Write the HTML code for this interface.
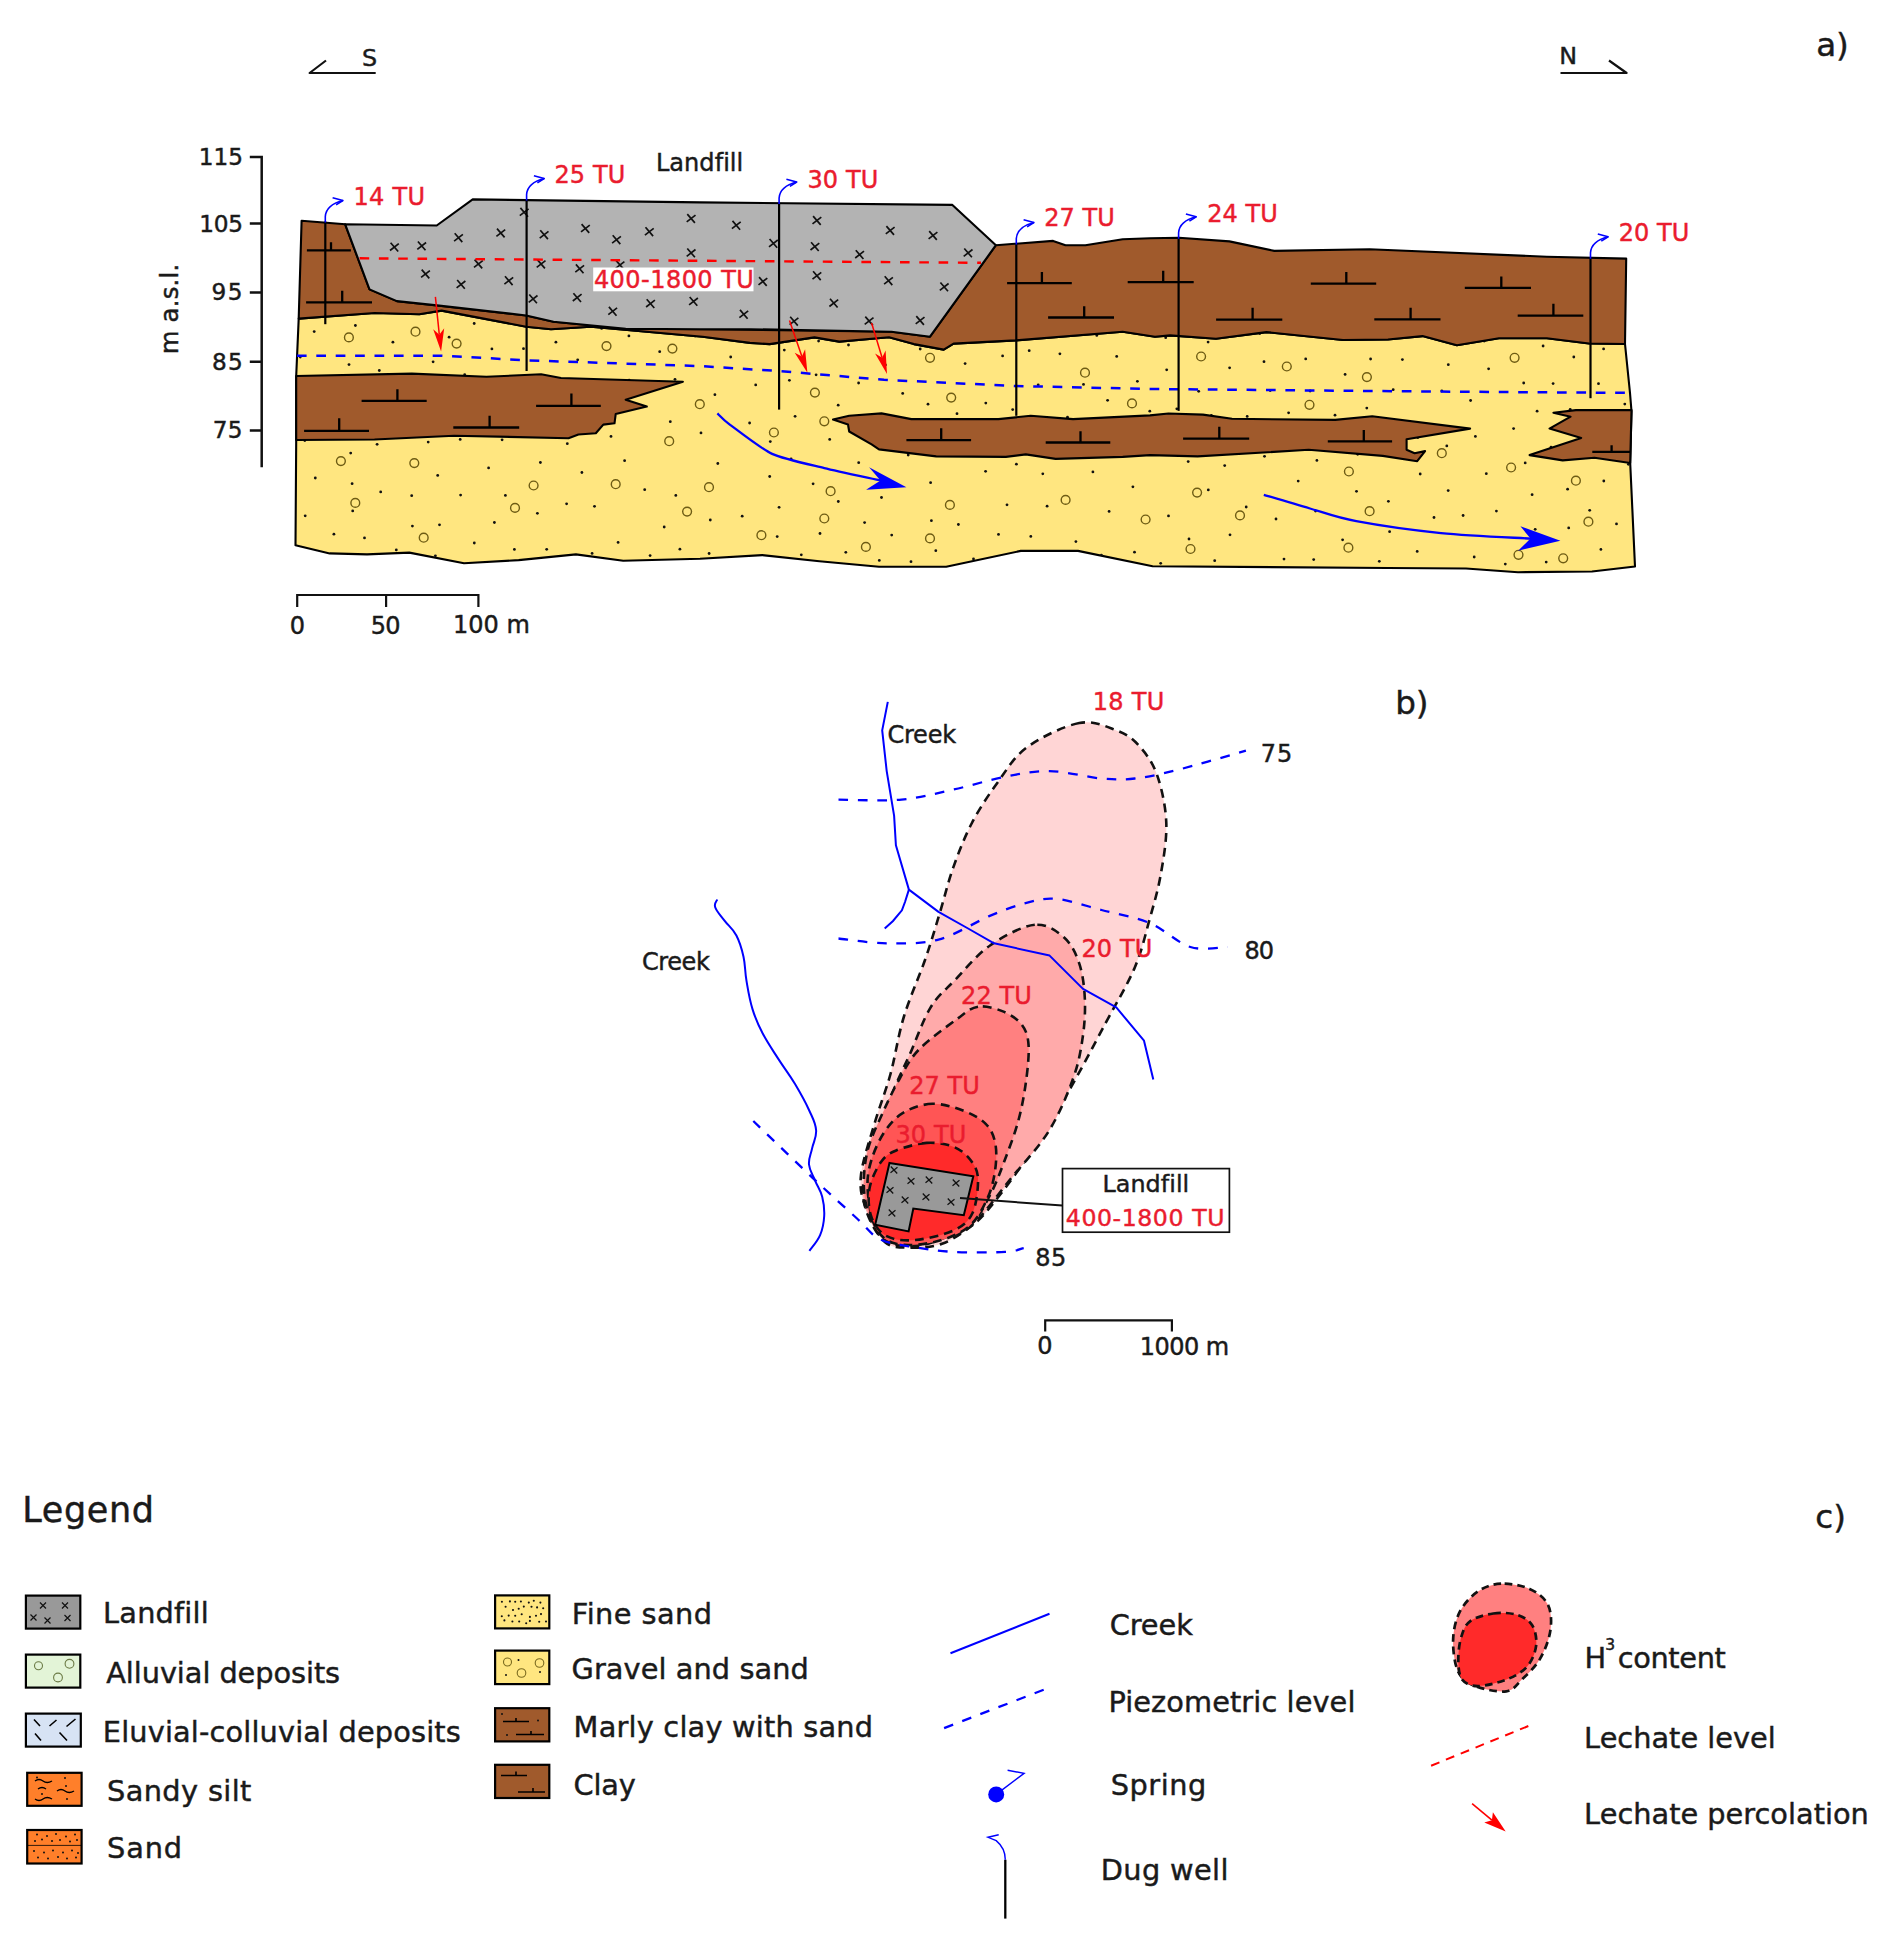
<!DOCTYPE html>
<html lang="en">
<head>
<meta charset="utf-8">
<title>Landfill tritium plume figure</title>
<style>
html,body{margin:0;padding:0;background:#fff;}
body{width:1890px;height:1933px;overflow:hidden;}
svg{display:block;font-family:"DejaVu Sans", "Liberation Sans", sans-serif;}
text{stroke-width:0.45px;paint-order:stroke fill;}
</style>
</head>
<body>
<svg width="1890" height="1933" viewBox="0 0 1890 1933">
<rect width="1890" height="1933" fill="#fff"/>
<g stroke="#000" stroke-width="2.1" stroke-linejoin="round">
<polygon fill="#ffe680" points="298.7,318.6 374.5,313.0 419.3,314.3 441.6,310.6 526.2,326.7 551.0,329.2 590.8,326.7 702.7,336.7 750.0,342.9 769.6,344.1 814.4,337.4 839.3,341.6 889.0,337.2 913.9,344.1 943.7,349.6 953.6,343.6 1015.8,340.4 1122.7,331.7 1155.0,336.7 1170.0,335.4 1216.0,338.7 1266.4,332.1 1343.0,340.0 1388.0,339.5 1422.5,336.1 1456.9,345.3 1499.0,338.2 1546.8,338.2 1589.0,343.5 1625.0,344.0 1630.0,393.0 1631.5,411.4 1630.2,463.0 1635.0,566.5 1592.0,571.5 1518.0,572.2 1466.0,568.5 1388.0,568.0 1152.6,566.3 1078.0,550.9 1020.8,550.9 946.2,566.8 879.0,566.8 819.4,561.3 762.2,555.1 700.0,558.8 623.2,560.8 575.9,554.4 518.7,560.1 464.0,563.3 409.3,552.6 367.0,554.4 329.7,553.4 295.5,545.2 296.2,440.0 296.2,376.0 298.7,318.6"/>
</g>
<clipPath id="cy"><polygon points="298.7,318.6 374.5,313.0 419.3,314.3 441.6,310.6 526.2,326.7 551.0,329.2 590.8,326.7 702.7,336.7 750.0,342.9 769.6,344.1 814.4,337.4 839.3,341.6 889.0,337.2 913.9,344.1 943.7,349.6 953.6,343.6 1015.8,340.4 1122.7,331.7 1155.0,336.7 1170.0,335.4 1216.0,338.7 1266.4,332.1 1343.0,340.0 1388.0,339.5 1422.5,336.1 1456.9,345.3 1499.0,338.2 1546.8,338.2 1589.0,343.5 1625.0,344.0 1630.0,393.0 1631.5,411.4 1630.2,463.0 1635.0,566.5 1592.0,571.5 1518.0,572.2 1466.0,568.5 1388.0,568.0 1152.6,566.3 1078.0,550.9 1020.8,550.9 946.2,566.8 879.0,566.8 819.4,561.3 762.2,555.1 700.0,558.8 623.2,560.8 575.9,554.4 518.7,560.1 464.0,563.3 409.3,552.6 367.0,554.4 329.7,553.4 295.5,545.2 296.2,440.0 296.2,376.0 298.7,318.6"/></clipPath>
<g clip-path="url(#cy)">
<g fill="none" stroke="#6e5c14" stroke-width="1.4">
<circle cx="348.9" cy="337.4" r="4.4"/>
<circle cx="415.5" cy="331.7" r="4.4"/>
<circle cx="456.6" cy="343.6" r="4.4"/>
<circle cx="606.5" cy="346.1" r="4.4"/>
<circle cx="672.4" cy="348.6" r="4.4"/>
<circle cx="930.0" cy="357.8" r="4.4"/>
<circle cx="1085.0" cy="372.7" r="4.4"/>
<circle cx="814.9" cy="392.6" r="4.4"/>
<circle cx="951.2" cy="397.6" r="4.4"/>
<circle cx="1201.1" cy="356.5" r="4.4"/>
<circle cx="1286.8" cy="366.5" r="4.4"/>
<circle cx="1366.9" cy="377.1" r="4.4"/>
<circle cx="1514.6" cy="357.8" r="4.4"/>
<circle cx="340.9" cy="461.1" r="4.4"/>
<circle cx="414.3" cy="463.1" r="4.4"/>
<circle cx="699.8" cy="404.2" r="4.4"/>
<circle cx="669.2" cy="441.2" r="4.4"/>
<circle cx="533.6" cy="485.5" r="4.4"/>
<circle cx="615.7" cy="484.2" r="4.4"/>
<circle cx="709.0" cy="487.2" r="4.4"/>
<circle cx="355.3" cy="502.9" r="4.4"/>
<circle cx="515.0" cy="507.9" r="4.4"/>
<circle cx="687.1" cy="511.6" r="4.4"/>
<circle cx="423.7" cy="537.7" r="4.4"/>
<circle cx="1132.0" cy="403.4" r="4.4"/>
<circle cx="824.3" cy="421.3" r="4.4"/>
<circle cx="773.9" cy="432.5" r="4.4"/>
<circle cx="830.6" cy="491.2" r="4.4"/>
<circle cx="949.9" cy="504.9" r="4.4"/>
<circle cx="1065.6" cy="499.9" r="4.4"/>
<circle cx="824.3" cy="518.5" r="4.4"/>
<circle cx="1145.6" cy="519.5" r="4.4"/>
<circle cx="761.4" cy="535.2" r="4.4"/>
<circle cx="930.0" cy="538.4" r="4.4"/>
<circle cx="865.9" cy="546.9" r="4.4"/>
<circle cx="1309.5" cy="404.8" r="4.4"/>
<circle cx="1441.8" cy="453.2" r="4.4"/>
<circle cx="1348.9" cy="471.5" r="4.4"/>
<circle cx="1511.1" cy="467.5" r="4.4"/>
<circle cx="1575.9" cy="480.7" r="4.4"/>
<circle cx="1197.1" cy="492.6" r="4.4"/>
<circle cx="1240.0" cy="515.4" r="4.4"/>
<circle cx="1369.6" cy="511.2" r="4.4"/>
<circle cx="1588.4" cy="521.7" r="4.4"/>
<circle cx="1190.5" cy="549.0" r="4.4"/>
<circle cx="1348.4" cy="547.7" r="4.4"/>
<circle cx="1518.5" cy="554.8" r="4.4"/>
<circle cx="1563.2" cy="558.3" r="4.4"/>
</g>
<g fill="#111">
<circle cx="730.7" cy="357.0" r="1.4"/>
<circle cx="1165.7" cy="337.7" r="1.4"/>
<circle cx="1012.7" cy="409.6" r="1.4"/>
<circle cx="377.1" cy="444.3" r="1.4"/>
<circle cx="392.9" cy="342.2" r="1.4"/>
<circle cx="864.6" cy="522.6" r="1.4"/>
<circle cx="464.7" cy="374.7" r="1.4"/>
<circle cx="1134.5" cy="552.2" r="1.4"/>
<circle cx="1067.5" cy="417.2" r="1.4"/>
<circle cx="1441.8" cy="391.0" r="1.4"/>
<circle cx="491.9" cy="348.9" r="1.4"/>
<circle cx="710.3" cy="520.0" r="1.4"/>
<circle cx="540.4" cy="462.5" r="1.4"/>
<circle cx="1149.8" cy="411.2" r="1.4"/>
<circle cx="379.3" cy="370.5" r="1.4"/>
<circle cx="717.8" cy="463.5" r="1.4"/>
<circle cx="902.7" cy="393.4" r="1.4"/>
<circle cx="1356.5" cy="491.3" r="1.4"/>
<circle cx="624.6" cy="460.7" r="1.4"/>
<circle cx="998.5" cy="534.4" r="1.4"/>
<circle cx="1270.2" cy="390.5" r="1.4"/>
<circle cx="1603.6" cy="348.9" r="1.4"/>
<circle cx="502.1" cy="439.8" r="1.4"/>
<circle cx="352.1" cy="483.7" r="1.4"/>
<circle cx="1316.9" cy="460.4" r="1.4"/>
<circle cx="1224.7" cy="465.6" r="1.4"/>
<circle cx="1417.2" cy="551.4" r="1.4"/>
<circle cx="930.6" cy="482.7" r="1.4"/>
<circle cx="380.7" cy="491.9" r="1.4"/>
<circle cx="1160.7" cy="563.3" r="1.4"/>
<circle cx="1393.2" cy="389.7" r="1.4"/>
<circle cx="813.1" cy="483.8" r="1.4"/>
<circle cx="523.5" cy="348.7" r="1.4"/>
<circle cx="820.0" cy="533.5" r="1.4"/>
<circle cx="1030.8" cy="536.4" r="1.4"/>
<circle cx="1389.6" cy="531.7" r="1.4"/>
<circle cx="670.3" cy="421.7" r="1.4"/>
<circle cx="777.2" cy="536.6" r="1.4"/>
<circle cx="1573.8" cy="357.0" r="1.4"/>
<circle cx="1083.5" cy="384.4" r="1.4"/>
<circle cx="791.1" cy="458.8" r="1.4"/>
<circle cx="1567.6" cy="489.2" r="1.4"/>
<circle cx="985.6" cy="471.3" r="1.4"/>
<circle cx="1496.4" cy="511.1" r="1.4"/>
<circle cx="1463.1" cy="515.5" r="1.4"/>
<circle cx="437.7" cy="475.4" r="1.4"/>
<circle cx="577.7" cy="359.8" r="1.4"/>
<circle cx="300.3" cy="357.1" r="1.4"/>
<circle cx="333.9" cy="534.2" r="1.4"/>
<circle cx="1116.7" cy="356.4" r="1.4"/>
<circle cx="784.3" cy="350.1" r="1.4"/>
<circle cx="755.7" cy="384.9" r="1.4"/>
<circle cx="1402.4" cy="359.6" r="1.4"/>
<circle cx="1002.6" cy="355.9" r="1.4"/>
<circle cx="1448.2" cy="490.6" r="1.4"/>
<circle cx="1379.3" cy="561.3" r="1.4"/>
<circle cx="1434.0" cy="517.5" r="1.4"/>
<circle cx="1388.4" cy="501.3" r="1.4"/>
<circle cx="644.7" cy="489.7" r="1.4"/>
<circle cx="1546.2" cy="562.1" r="1.4"/>
<circle cx="1570.2" cy="409.3" r="1.4"/>
<circle cx="1417.8" cy="437.5" r="1.4"/>
<circle cx="1168.5" cy="515.9" r="1.4"/>
<circle cx="537.4" cy="513.3" r="1.4"/>
<circle cx="742.2" cy="516.2" r="1.4"/>
<circle cx="1264.0" cy="361.7" r="1.4"/>
<circle cx="494.4" cy="522.5" r="1.4"/>
<circle cx="1603.8" cy="481.0" r="1.4"/>
<circle cx="474.2" cy="323.5" r="1.4"/>
<circle cx="474.3" cy="543.0" r="1.4"/>
<circle cx="1075.9" cy="541.6" r="1.4"/>
<circle cx="885.4" cy="364.9" r="1.4"/>
<circle cx="305.2" cy="515.8" r="1.4"/>
<circle cx="1264.5" cy="456.3" r="1.4"/>
<circle cx="1047.1" cy="506.2" r="1.4"/>
<circle cx="1513.6" cy="428.6" r="1.4"/>
<circle cx="935.8" cy="550.7" r="1.4"/>
<circle cx="1230.0" cy="534.8" r="1.4"/>
<circle cx="1553.1" cy="383.6" r="1.4"/>
<circle cx="1342.6" cy="539.8" r="1.4"/>
<circle cx="505.4" cy="495.4" r="1.4"/>
<circle cx="1474.2" cy="557.0" r="1.4"/>
<circle cx="592.1" cy="553.4" r="1.4"/>
<circle cx="829.7" cy="439.4" r="1.4"/>
<circle cx="1616.5" cy="523.9" r="1.4"/>
<circle cx="985.8" cy="403.1" r="1.4"/>
<circle cx="352.7" cy="510.9" r="1.4"/>
<circle cx="659.7" cy="351.7" r="1.4"/>
<circle cx="396.3" cy="549.9" r="1.4"/>
<circle cx="714.9" cy="394.7" r="1.4"/>
<circle cx="1310.1" cy="391.0" r="1.4"/>
<circle cx="965.1" cy="363.6" r="1.4"/>
<circle cx="1543.1" cy="346.0" r="1.4"/>
<circle cx="958.4" cy="524.5" r="1.4"/>
<circle cx="1214.7" cy="560.7" r="1.4"/>
<circle cx="838.2" cy="405.2" r="1.4"/>
<circle cx="412.4" cy="526.1" r="1.4"/>
<circle cx="675.0" cy="379.3" r="1.4"/>
<circle cx="650.1" cy="555.6" r="1.4"/>
<circle cx="567.3" cy="443.7" r="1.4"/>
<circle cx="355.4" cy="325.5" r="1.4"/>
<circle cx="1298.2" cy="481.1" r="1.4"/>
<circle cx="1486.3" cy="473.7" r="1.4"/>
<circle cx="1276.0" cy="519.0" r="1.4"/>
<circle cx="1208.3" cy="489.9" r="1.4"/>
<circle cx="439.5" cy="524.8" r="1.4"/>
<circle cx="1042.8" cy="473.8" r="1.4"/>
<circle cx="1132.9" cy="486.8" r="1.4"/>
<circle cx="1284.0" cy="559.1" r="1.4"/>
<circle cx="957.0" cy="413.7" r="1.4"/>
<circle cx="1198.7" cy="391.3" r="1.4"/>
<circle cx="920.2" cy="349.0" r="1.4"/>
<circle cx="1488.6" cy="368.8" r="1.4"/>
<circle cx="1600.9" cy="549.4" r="1.4"/>
<circle cx="304.8" cy="440.5" r="1.4"/>
<circle cx="1532.1" cy="494.7" r="1.4"/>
<circle cx="795.1" cy="416.3" r="1.4"/>
<circle cx="1628.4" cy="464.3" r="1.4"/>
<circle cx="679.9" cy="549.2" r="1.4"/>
<circle cx="928.0" cy="404.2" r="1.4"/>
<circle cx="1598.5" cy="383.7" r="1.4"/>
<circle cx="1505.3" cy="564.1" r="1.4"/>
<circle cx="555.9" cy="342.2" r="1.4"/>
<circle cx="1568.7" cy="527.9" r="1.4"/>
<circle cx="908.2" cy="455.1" r="1.4"/>
<circle cx="449.1" cy="337.2" r="1.4"/>
<circle cx="816.1" cy="374.8" r="1.4"/>
<circle cx="701.0" cy="432.9" r="1.4"/>
<circle cx="1475.4" cy="436.4" r="1.4"/>
<circle cx="858.6" cy="383.0" r="1.4"/>
<circle cx="601.6" cy="328.4" r="1.4"/>
<circle cx="749.6" cy="423.0" r="1.4"/>
<circle cx="594.5" cy="506.3" r="1.4"/>
<circle cx="546.7" cy="549.3" r="1.4"/>
<circle cx="1523.7" cy="383.0" r="1.4"/>
<circle cx="611.0" cy="436.4" r="1.4"/>
<circle cx="1107.6" cy="400.3" r="1.4"/>
<circle cx="628.9" cy="335.9" r="1.4"/>
<circle cx="428.2" cy="442.1" r="1.4"/>
<circle cx="629.1" cy="380.1" r="1.4"/>
<circle cx="931.4" cy="520.7" r="1.4"/>
<circle cx="1537.1" cy="411.2" r="1.4"/>
<circle cx="1092.9" cy="471.9" r="1.4"/>
<circle cx="1166.7" cy="369.8" r="1.4"/>
<circle cx="1357.7" cy="454.3" r="1.4"/>
<circle cx="709.1" cy="553.5" r="1.4"/>
<circle cx="1345.1" cy="374.4" r="1.4"/>
<circle cx="858.7" cy="462.7" r="1.4"/>
<circle cx="1315.5" cy="511.1" r="1.4"/>
<circle cx="1305.7" cy="358.9" r="1.4"/>
<circle cx="349.0" cy="364.6" r="1.4"/>
<circle cx="514.4" cy="549.4" r="1.4"/>
<circle cx="779.1" cy="507.3" r="1.4"/>
<circle cx="315.3" cy="478.0" r="1.4"/>
<circle cx="364.5" cy="537.9" r="1.4"/>
<circle cx="1470.6" cy="400.5" r="1.4"/>
<circle cx="618.1" cy="542.4" r="1.4"/>
<circle cx="881.5" cy="497.5" r="1.4"/>
<circle cx="581.9" cy="472.5" r="1.4"/>
<circle cx="675.8" cy="495.4" r="1.4"/>
<circle cx="1313.7" cy="559.6" r="1.4"/>
<circle cx="1484.2" cy="341.1" r="1.4"/>
<circle cx="1007.0" cy="504.8" r="1.4"/>
<circle cx="435.4" cy="555.8" r="1.4"/>
<circle cx="488.6" cy="467.9" r="1.4"/>
<circle cx="838.3" cy="501.5" r="1.4"/>
<circle cx="1137.4" cy="381.3" r="1.4"/>
<circle cx="1335.0" cy="415.2" r="1.4"/>
<circle cx="350.7" cy="453.1" r="1.4"/>
<circle cx="1551.0" cy="447.2" r="1.4"/>
<circle cx="845.8" cy="552.3" r="1.4"/>
<circle cx="769.7" cy="476.5" r="1.4"/>
<circle cx="1029.2" cy="350.7" r="1.4"/>
<circle cx="1176.8" cy="408.8" r="1.4"/>
<circle cx="1535.2" cy="529.3" r="1.4"/>
<circle cx="1109.1" cy="511.4" r="1.4"/>
<circle cx="1189.0" cy="539.0" r="1.4"/>
<circle cx="1038.2" cy="384.8" r="1.4"/>
<circle cx="973.5" cy="558.9" r="1.4"/>
<circle cx="848.5" cy="345.0" r="1.4"/>
<circle cx="566.6" cy="503.8" r="1.4"/>
<circle cx="1420.2" cy="474.0" r="1.4"/>
<circle cx="1059.9" cy="353.8" r="1.4"/>
<circle cx="1259.8" cy="333.6" r="1.4"/>
<circle cx="460.6" cy="495.1" r="1.4"/>
<circle cx="1229.6" cy="367.8" r="1.4"/>
<circle cx="879.3" cy="560.4" r="1.4"/>
<circle cx="1589.7" cy="510.3" r="1.4"/>
<circle cx="314.2" cy="331.6" r="1.4"/>
<circle cx="1211.4" cy="415.4" r="1.4"/>
<circle cx="1624.8" cy="404.1" r="1.4"/>
<circle cx="433.1" cy="361.8" r="1.4"/>
<circle cx="1101.4" cy="555.2" r="1.4"/>
<circle cx="1370.6" cy="359.0" r="1.4"/>
<circle cx="801.3" cy="554.8" r="1.4"/>
<circle cx="789.4" cy="380.3" r="1.4"/>
<circle cx="818.6" cy="341.1" r="1.4"/>
<circle cx="695.0" cy="336.1" r="1.4"/>
<circle cx="411.7" cy="495.7" r="1.4"/>
<circle cx="911.0" cy="561.7" r="1.4"/>
<circle cx="1525.2" cy="462.9" r="1.4"/>
<circle cx="1016.4" cy="464.2" r="1.4"/>
<circle cx="1246.2" cy="507.0" r="1.4"/>
<circle cx="1448.3" cy="364.7" r="1.4"/>
<circle cx="1208.1" cy="342.1" r="1.4"/>
<circle cx="460.2" cy="439.4" r="1.4"/>
<circle cx="770.3" cy="441.6" r="1.4"/>
<circle cx="1288.6" cy="412.8" r="1.4"/>
<circle cx="1247.2" cy="416.4" r="1.4"/>
<circle cx="891.7" cy="535.1" r="1.4"/>
<circle cx="1446.8" cy="445.9" r="1.4"/>
<circle cx="1188.2" cy="461.6" r="1.4"/>
<circle cx="664.2" cy="527.0" r="1.4"/>
<circle cx="1366.8" cy="408.1" r="1.4"/>
<circle cx="1096.8" cy="335.4" r="1.4"/>
</g>
</g>
<g stroke="#000" stroke-width="2.1" stroke-linejoin="round">
<polygon fill="#a05a2c" points="301.6,220.7 345.2,224.3 369.5,289.4 396.9,301.1 439.2,305.6 526.2,315.5 553.5,321.7 625.7,328.7 700.0,329.2 891.5,331.7 930.0,336.7 995.9,245.2 1053.1,240.9 1065.5,245.2 1085.4,245.2 1122.7,239.2 1150.0,238.2 1179.0,237.7 1229.4,241.4 1274.3,250.9 1369.6,249.3 1546.8,256.7 1626.2,258.6 1625.0,344.0 1589.0,343.5 1546.8,338.2 1499.0,338.2 1456.9,345.3 1422.5,336.1 1388.0,339.5 1343.0,340.0 1266.4,332.1 1216.0,338.7 1170.0,335.4 1155.0,336.7 1122.7,331.7 1015.8,340.4 953.6,343.6 943.7,349.6 913.9,344.1 889.0,337.2 839.3,341.6 814.4,337.4 769.6,344.1 750.0,342.9 702.7,336.7 590.8,326.7 551.0,329.2 526.2,326.7 441.6,310.6 419.3,314.3 374.5,313.0 298.7,318.6"/>
<polygon fill="#a05a2c" points="296.2,376.0 411.8,373.6 486.4,376.8 541.1,374.3 561.0,378.0 682.9,381.8 625.7,399.7 646.8,406.6 615.7,414.1 614.5,423.3 603.3,424.6 595.8,433.3 578.4,434.5 568.5,438.2 454.1,435.7 374.5,439.5 296.2,440.0"/>
<polygon fill="#a05a2c" points="833.0,419.6 849.2,415.8 881.5,413.4 911.4,419.1 998.4,419.1 1030.7,415.8 1073.0,419.1 1150.0,415.4 1168.5,413.5 1202.9,414.6 1232.0,418.8 1335.2,419.9 1372.2,416.2 1470.1,428.6 1406.6,439.2 1406.6,449.8 1414.6,453.2 1425.1,451.1 1417.2,461.2 1382.8,455.9 1308.7,449.8 1197.6,456.4 1150.0,455.1 1122.7,456.9 1055.6,458.9 1025.8,454.4 1005.9,456.9 936.2,456.4 879.0,449.4 871.6,444.4 849.2,431.5 848.0,424.6"/>
<polygon fill="#a05a2c" points="1553.4,412.8 1575.9,410.1 1631.5,410.1 1630.2,463.0 1594.4,457.7 1562.7,460.4 1529.6,455.1 1581.2,437.9 1549.5,428.6 1570.6,416.7"/>
<polygon fill="#b3b3b3" points="345.2,224.3 436.7,225.5 472.7,199.4 700.0,202.4 952.4,204.9 995.9,245.2 930.0,336.7 891.5,331.7 750.0,329.2 700.0,329.2 625.7,328.7 553.5,321.7 526.2,315.5 439.2,305.6 396.9,301.1 369.5,289.4"/>
</g>
<g stroke="#000" stroke-width="2.3" fill="none">
<path d="M306.9 250.4H350.9M331.0 250.4V242.2"/>
<path d="M306.1 302.3H372.0M342.2 302.3V290.7"/>
<path d="M1007.1 283.2H1071.8M1041.9 283.2V272.0"/>
<path d="M1048.1 317.5H1114.0M1084.2 317.5V306.3"/>
<path d="M1127.7 282.2H1193.7M1163.2 282.2V270.7"/>
<path d="M1310.8 283.7H1376.2M1346.3 283.7V272.1"/>
<path d="M1464.8 287.9H1531.0M1501.3 287.9V276.6"/>
<path d="M1216.1 319.7H1282.3M1252.6 319.7V307.8"/>
<path d="M1374.3 319.4H1440.5M1410.6 319.4V307.8"/>
<path d="M1517.7 315.7H1583.3M1553.4 315.7V303.8"/>
<path d="M361.6 400.9H426.7M397.4 400.9V389.2"/>
<path d="M536.1 405.9H600.8M571.4 405.9V393.5"/>
<path d="M304.1 430.8H369.0M339.2 430.8V418.3"/>
<path d="M453.3 427.5H519.2M489.6 427.5V415.8"/>
<path d="M906.4 440.2H971.1M941.2 440.2V428.3"/>
<path d="M1045.7 442.5H1110.3M1080.5 442.5V431.3"/>
<path d="M1183.1 438.7H1249.2M1219.3 438.7V426.8"/>
<path d="M1327.8 441.3H1392.1M1363.8 441.3V429.9"/>
<path d="M1592.3 451.9H1630.0M1611.6 451.9V445.3"/>
</g>
<g stroke="#111" stroke-width="1.7" fill="none">
<path d="M390.6 242.7l7.6 8.8M398.8 243.7l-8.8 6.8"/>
<path d="M417.9 241.5l7.6 8.8M426.1 242.5l-8.8 6.8"/>
<path d="M454.7 233.3l7.6 8.8M462.9 234.3l-8.8 6.8"/>
<path d="M497.0 228.6l7.6 8.8M505.2 229.6l-8.8 6.8"/>
<path d="M520.4 207.9l7.6 8.8M528.6 208.9l-8.8 6.8"/>
<path d="M540.3 230.3l7.6 8.8M548.5 231.3l-8.8 6.8"/>
<path d="M581.6 224.1l7.6 8.8M589.8 225.1l-8.8 6.8"/>
<path d="M612.7 235.3l7.6 8.8M620.9 236.3l-8.8 6.8"/>
<path d="M645.5 227.3l7.6 8.8M653.7 228.3l-8.8 6.8"/>
<path d="M687.3 214.1l7.6 8.8M695.5 215.1l-8.8 6.8"/>
<path d="M732.5 220.9l7.6 8.8M740.7 221.9l-8.8 6.8"/>
<path d="M687.3 248.5l7.6 8.8M695.5 249.5l-8.8 6.8"/>
<path d="M474.6 259.6l7.6 8.8M482.8 260.6l-8.8 6.8"/>
<path d="M537.3 259.6l7.6 8.8M545.5 260.6l-8.8 6.8"/>
<path d="M575.9 264.4l7.6 8.8M584.1 265.4l-8.8 6.8"/>
<path d="M421.7 269.6l7.6 8.8M429.9 270.6l-8.8 6.8"/>
<path d="M457.2 280.0l7.6 8.8M465.4 281.0l-8.8 6.8"/>
<path d="M505.0 276.3l7.6 8.8M513.2 277.3l-8.8 6.8"/>
<path d="M529.3 294.5l7.6 8.8M537.5 295.5l-8.8 6.8"/>
<path d="M573.4 293.2l7.6 8.8M581.6 294.2l-8.8 6.8"/>
<path d="M608.9 306.9l7.6 8.8M617.1 307.9l-8.8 6.8"/>
<path d="M646.7 299.2l7.6 8.8M654.9 300.2l-8.8 6.8"/>
<path d="M689.7 297.0l7.6 8.8M697.9 298.0l-8.8 6.8"/>
<path d="M740.0 309.9l7.6 8.8M748.2 310.9l-8.8 6.8"/>
<path d="M813.1 216.1l7.6 8.8M821.3 217.1l-8.8 6.8"/>
<path d="M886.4 226.1l7.6 8.8M894.6 227.1l-8.8 6.8"/>
<path d="M929.2 231.1l7.6 8.8M937.4 232.1l-8.8 6.8"/>
<path d="M769.6 239.0l7.6 8.8M777.8 240.0l-8.8 6.8"/>
<path d="M811.1 242.2l7.6 8.8M819.3 243.2l-8.8 6.8"/>
<path d="M855.8 250.2l7.6 8.8M864.0 251.2l-8.8 6.8"/>
<path d="M964.3 248.5l7.6 8.8M972.5 249.5l-8.8 6.8"/>
<path d="M759.1 277.1l7.6 8.8M767.3 278.1l-8.8 6.8"/>
<path d="M813.1 271.3l7.6 8.8M821.3 272.3l-8.8 6.8"/>
<path d="M884.7 276.3l7.6 8.8M892.9 277.3l-8.8 6.8"/>
<path d="M940.4 282.5l7.6 8.8M948.6 283.5l-8.8 6.8"/>
<path d="M830.0 298.7l7.6 8.8M838.2 299.7l-8.8 6.8"/>
<path d="M790.2 316.8l7.6 8.8M798.4 317.8l-8.8 6.8"/>
<path d="M865.3 316.6l7.6 8.8M873.5 317.6l-8.8 6.8"/>
<path d="M916.3 316.1l7.6 8.8M924.5 317.1l-8.8 6.8"/>
<path d="M616.2 260.6l7.6 8.8M624.4 261.6l-8.8 6.8"/>
</g>
<path d="M359.6 258.3L981 262.8" stroke="#ff0000" stroke-width="2.4" stroke-dasharray="9.6 9.7" fill="none"/>
<rect x="593.2" y="267.5" width="160.3" height="23.8" fill="#fff"/>
<text x="593.88" y="287.6" font-size="24.0" fill="#ea1c2e" stroke="#ea1c2e" text-anchor="start" letter-spacing="0.459" >400-1800 TU</text>
<polyline points="296.9,355.7 441.6,355.7 528.7,360.4 700.0,366.1 779.6,371.1 884.0,379.8 1015.8,386.0 1150.0,389.0 1441.0,391.6 1630.0,392.9" stroke="#0000ff" stroke-width="2.5" stroke-dasharray="9.7 9.7" fill="none"/>
<path d="M325.3 221.5V324.2" stroke="#000" stroke-width="2.2"/>
<path d="M325.3 222.5V216.5C325.8 209.5 331.3 203.5 342.9 200.5" stroke="#0000ff" stroke-width="1.6" fill="none"/>
<path d="M332.6 197.7L342.9 200.5L336.1 204.9" stroke="#0000ff" stroke-width="1.6" fill="none" stroke-linejoin="round"/>
<path d="M526.6 199.5V371.0" stroke="#000" stroke-width="2.2"/>
<path d="M526.6 200.5V194.5C527.1 187.5 532.6 181.5 544.2 178.5" stroke="#0000ff" stroke-width="1.6" fill="none"/>
<path d="M533.9 175.7L544.2 178.5L537.4 182.9" stroke="#0000ff" stroke-width="1.6" fill="none" stroke-linejoin="round"/>
<path d="M779.1 203.0V409.6" stroke="#000" stroke-width="2.2"/>
<path d="M779.1 204.0V198.0C779.6 191.0 785.1 185.0 796.7 182.0" stroke="#0000ff" stroke-width="1.6" fill="none"/>
<path d="M786.4 179.2L796.7 182.0L789.9 186.4" stroke="#0000ff" stroke-width="1.6" fill="none" stroke-linejoin="round"/>
<path d="M1016.3 243.5V415.8" stroke="#000" stroke-width="2.2"/>
<path d="M1016.3 244.5V238.5C1016.8 231.5 1022.3 225.5 1033.9 222.5" stroke="#0000ff" stroke-width="1.6" fill="none"/>
<path d="M1023.6 219.7L1033.9 222.5L1027.1 226.9" stroke="#0000ff" stroke-width="1.6" fill="none" stroke-linejoin="round"/>
<path d="M1178.6 237.8V410.9" stroke="#000" stroke-width="2.2"/>
<path d="M1178.6 238.8V232.8C1179.1 225.8 1184.6 219.8 1196.2 216.8" stroke="#0000ff" stroke-width="1.6" fill="none"/>
<path d="M1185.9 214.0L1196.2 216.8L1189.4 221.2" stroke="#0000ff" stroke-width="1.6" fill="none" stroke-linejoin="round"/>
<path d="M1590.5 257.8V398.2" stroke="#000" stroke-width="2.2"/>
<path d="M1590.5 258.8V252.8C1591.0 245.8 1596.5 239.8 1608.1 236.8" stroke="#0000ff" stroke-width="1.6" fill="none"/>
<path d="M1597.8 234.0L1608.1 236.8L1601.3 241.2" stroke="#0000ff" stroke-width="1.6" fill="none" stroke-linejoin="round"/>
<text x="353.39" y="204.8" font-size="24.0" fill="#ea1c2e" stroke="#ea1c2e" text-anchor="start" letter-spacing="0.312" >14 TU</text>
<text x="554.49" y="182.9" font-size="24.0" fill="#ea1c2e" stroke="#ea1c2e" text-anchor="start" letter-spacing="0.087" >25 TU</text>
<text x="807.43" y="187.6" font-size="24.0" fill="#ea1c2e" stroke="#ea1c2e" text-anchor="start" letter-spacing="0.102" >30 TU</text>
<text x="1044.18" y="226.0" font-size="24.0" fill="#ea1c2e" stroke="#ea1c2e" text-anchor="start" letter-spacing="0.087" >27 TU</text>
<text x="1207.18" y="221.8" font-size="24.0" fill="#ea1c2e" stroke="#ea1c2e" text-anchor="start" letter-spacing="0.087" >24 TU</text>
<text x="1618.68" y="240.8" font-size="24.0" fill="#ea1c2e" stroke="#ea1c2e" text-anchor="start" letter-spacing="0.087" >20 TU</text>
<text x="655.88" y="171.2" font-size="24.0" fill="#1a1a1a" stroke="#1a1a1a" text-anchor="start" letter-spacing="0.059" >Landfill</text>
<path d="M435.4 296.9L439.3 334.7" stroke="#ff0000" stroke-width="1.5" fill="none"/>
<polygon points="441.1,351.6 433.2,329.3 439.3,334.7 444.2,328.2" fill="#ff0000"/>
<path d="M789.5 320.5L801.9 356.6" stroke="#ff0000" stroke-width="1.5" fill="none"/>
<polygon points="807.4,372.7 794.7,352.7 801.9,356.6 805.1,349.2" fill="#ff0000"/>
<path d="M871.6 323.0L882.1 357.7" stroke="#ff0000" stroke-width="1.5" fill="none"/>
<polygon points="887.0,374.0 875.1,353.6 882.1,357.7 885.6,350.4" fill="#ff0000"/>
<path d="M717.4 413.4C718.8 414.7 723.4 419.9 729.8 424.6C736.2 429.3 761.1 448.8 772.1 453.9C783.1 459.0 811.6 465.0 824.3 468.1C837.0 471.2 874.4 479.1 881.0 480.6" stroke="#0000ff" stroke-width="2.3" fill="none"/>
<polygon points="906.4,487.2 869.1,467.3 880.5,480.5 866.1,489.7" fill="#0000ff"/>
<path d="M1263.8 494.8C1271.5 497.1 1294.6 504.1 1310.0 508.5C1325.4 512.9 1334.5 517.1 1356.3 521.2C1378.1 525.3 1411.9 530.2 1441.0 533.1C1470.1 536.0 1516.0 537.7 1531.0 538.6" stroke="#0000ff" stroke-width="2.3" fill="none"/>
<polygon points="1560.4,540.8 1520.4,526.3 1530.5,538.6 1518.1,550.7" fill="#0000ff"/>
<path d="M249.8 157.1H261.7V467.3M249.8 223.6H261.7M249.8 292.6H261.7M249.8 361.7H261.7M249.8 430.4H261.7" stroke="#111" stroke-width="2.5" stroke-linejoin="miter" fill="none"/>
<text x="198.67" y="164.6" font-size="23.2" fill="#1a1a1a" stroke="#1a1a1a" text-anchor="start" letter-spacing="0.060" >115</text>
<text x="199.27" y="231.5" font-size="23.2" fill="#1a1a1a" stroke="#1a1a1a" text-anchor="start" letter-spacing="-0.240" >105</text>
<text x="211.38" y="300.4" font-size="23.2" fill="#1a1a1a" stroke="#1a1a1a" text-anchor="start" letter-spacing="1.650" >95</text>
<text x="212.06" y="369.6" font-size="23.2" fill="#1a1a1a" stroke="#1a1a1a" text-anchor="start" letter-spacing="1.166" >85</text>
<text x="212.81" y="438.2" font-size="23.2" fill="#1a1a1a" stroke="#1a1a1a" text-anchor="start" letter-spacing="0.214" >75</text>
<text transform="translate(178,354.26) rotate(-90)" x="0" y="0" font-size="24.3" letter-spacing="0.239" fill="#1a1a1a" stroke="#1a1a1a">m a.s.l.</text>
<path d="M375.7 73H309.6L326 60.5" stroke="#111" stroke-width="2.2" fill="none" stroke-linejoin="round"/>
<text x="361.98" y="65.5" font-size="23.8" fill="#1a1a1a" stroke="#1a1a1a" text-anchor="start" >S</text>
<path d="M1560.5 73H1626.6L1609 60.5" stroke="#111" stroke-width="2.2" fill="none" stroke-linejoin="round"/>
<text x="1559.20" y="64.3" font-size="23.8" fill="#1a1a1a" stroke="#1a1a1a" text-anchor="start" >N</text>
<text x="1816.17" y="56.0" font-size="32.6" fill="#1a1a1a" stroke="#1a1a1a" text-anchor="start" >a)</text>
<path d="M297.2 606.9V595H478.4V606.9M386.1 595V606.9" stroke="#111" stroke-width="2.2" fill="none"/>
<text x="289.67" y="634.2" font-size="24.0" fill="#1a1a1a" stroke="#1a1a1a" text-anchor="start" >0</text>
<text x="370.67" y="634.2" font-size="24.0" fill="#1a1a1a" stroke="#1a1a1a" text-anchor="start" letter-spacing="-0.570" >50</text>
<text x="452.89" y="633.0" font-size="24.0" fill="#1a1a1a" stroke="#1a1a1a" text-anchor="start" letter-spacing="0.068" >100 m</text>
<path d="M1079.3 723.0C1064.5 725.8 1041.0 737.1 1027.4 747.0C1013.8 756.9 1007.0 769.5 997.8 782.2C988.5 794.9 979.3 808.8 971.9 823.0C964.5 837.2 958.7 852.2 953.3 867.4C947.9 882.6 944.2 898.6 939.5 914.0C934.8 929.4 931.0 942.8 925.0 960.0C919.0 977.2 909.5 998.0 903.8 1017.0C898.0 1036.0 895.3 1056.5 890.5 1074.0C885.7 1091.5 879.9 1105.2 875.0 1122.0C870.1 1138.8 862.5 1160.7 861.0 1175.0C859.5 1189.3 861.7 1196.4 865.7 1207.6C869.7 1218.8 877.2 1235.3 884.8 1242.0C892.4 1248.7 901.9 1247.3 911.4 1247.6C920.9 1247.9 932.1 1247.3 942.0 1243.8C951.9 1240.3 962.3 1233.0 970.5 1226.7C978.7 1220.4 981.6 1217.8 991.4 1205.7C1001.2 1193.6 1016.8 1172.8 1029.5 1154.0C1042.2 1135.2 1054.9 1114.8 1067.6 1093.0C1080.3 1071.2 1094.5 1043.8 1105.7 1022.9C1116.9 1002.0 1127.5 984.7 1134.8 967.4C1142.1 950.1 1145.3 934.7 1149.6 919.3C1153.9 903.9 1157.9 890.8 1160.7 874.8C1163.5 858.8 1166.9 839.7 1166.3 823.0C1165.7 806.3 1161.6 787.8 1157.0 774.8C1152.4 761.8 1145.3 752.6 1138.5 745.2C1131.7 737.8 1126.2 734.1 1116.3 730.4C1106.4 726.7 1094.1 720.2 1079.3 723.0Z" fill="#ffd5d5" stroke="#111" stroke-width="2.6" stroke-dasharray="8.8 6"/>
<path d="M1034.8 924.8C1022.5 926.0 1003.7 936.0 990.4 945.2C977.1 954.4 965.0 969.6 955.0 980.0C945.0 990.4 938.1 995.1 930.5 1007.6C922.9 1020.1 915.9 1040.8 909.5 1055.0C903.1 1069.2 898.1 1078.7 892.4 1093.0C886.7 1107.3 880.0 1126.7 875.2 1141.0C870.4 1155.3 865.3 1167.5 863.8 1179.0C862.3 1190.5 862.6 1199.8 866.0 1210.0C869.4 1220.2 875.8 1234.0 884.0 1240.0C892.2 1246.0 905.0 1246.3 915.0 1246.0C925.0 1245.7 934.4 1241.5 944.0 1238.0C953.6 1234.5 961.3 1234.6 972.4 1224.8C983.5 1215.0 997.8 1194.6 1010.5 1179.0C1023.2 1163.4 1038.1 1148.2 1048.6 1131.4C1059.1 1114.6 1067.6 1093.9 1073.3 1078.0C1079.0 1062.1 1081.0 1049.3 1082.9 1036.0C1084.8 1022.7 1085.4 1010.0 1084.8 998.0C1084.2 986.0 1082.7 973.7 1079.3 963.7C1075.9 953.7 1071.8 944.3 1064.4 937.8C1057.0 931.3 1047.1 923.6 1034.8 924.8Z" fill="#ffaaaa" stroke="#111" stroke-width="2.6" stroke-dasharray="8.8 6"/>
<path d="M978.0 1006.7C970.4 1008.0 966.8 1011.9 957.0 1019.0C947.2 1026.1 928.5 1039.7 919.0 1049.5C909.5 1059.3 906.0 1067.5 900.0 1078.0C894.0 1088.5 888.3 1100.3 882.9 1112.4C877.5 1124.5 870.8 1137.6 867.6 1150.5C864.5 1163.4 863.3 1178.1 864.0 1190.0C864.7 1201.9 868.0 1213.5 872.0 1222.0C876.0 1230.5 880.8 1237.2 888.0 1241.0C895.2 1244.8 905.5 1245.7 915.0 1245.0C924.5 1244.3 935.4 1240.7 945.0 1237.0C954.6 1233.3 964.7 1230.3 972.4 1222.9C980.1 1215.5 986.0 1202.9 991.4 1192.4C996.8 1181.9 1000.4 1171.7 1004.8 1160.0C1009.2 1148.3 1014.5 1134.7 1018.0 1122.0C1021.5 1109.3 1023.9 1096.5 1025.7 1083.8C1027.5 1071.1 1029.2 1055.5 1028.6 1045.7C1028.0 1035.9 1026.2 1030.5 1021.9 1024.8C1017.6 1019.1 1010.2 1014.4 1002.9 1011.4C995.6 1008.4 985.6 1005.4 978.0 1006.7Z" fill="#ff8080" stroke="#111" stroke-width="2.6" stroke-dasharray="8.8 6"/>
<path d="M932.4 1103.8C922.5 1104.1 911.7 1107.8 903.8 1112.4C895.9 1117.0 890.2 1123.5 884.8 1131.4C879.4 1139.3 874.3 1150.5 871.4 1160.0C868.5 1169.5 867.0 1177.5 867.6 1188.6C868.2 1199.7 870.5 1217.5 875.2 1226.7C879.9 1235.9 886.1 1241.2 896.0 1243.8C905.9 1246.3 922.2 1244.8 934.3 1242.0C946.4 1239.2 959.7 1234.0 968.6 1226.7C977.5 1219.4 983.2 1207.5 987.6 1198.0C992.0 1188.5 993.9 1178.7 995.2 1169.5C996.5 1160.3 996.8 1150.5 995.2 1142.9C993.6 1135.3 991.1 1129.2 985.7 1123.8C980.3 1118.4 971.8 1113.8 962.9 1110.5C954.0 1107.2 942.2 1103.5 932.4 1103.8Z" fill="#ff5555" stroke="#111" stroke-width="2.6" stroke-dasharray="8.8 6"/>
<path d="M926.7 1142.9C917.2 1143.5 903.8 1147.3 896.2 1150.5C888.6 1153.7 885.5 1155.7 881.0 1162.0C876.5 1168.3 871.1 1179.4 869.5 1188.6C867.9 1197.8 868.5 1209.1 871.4 1217.0C874.3 1224.9 879.4 1232.4 886.7 1236.2C894.0 1240.0 904.1 1241.0 915.2 1240.0C926.3 1239.0 943.8 1235.0 953.3 1230.5C962.8 1226.0 968.3 1221.9 972.4 1213.3C976.5 1204.7 978.3 1187.9 978.0 1179.0C977.7 1170.1 974.6 1165.4 970.5 1160.0C966.4 1154.6 960.6 1149.5 953.3 1146.7C946.0 1143.9 936.2 1142.3 926.7 1142.9Z" fill="#ff2a2a" stroke="#111" stroke-width="2.6" stroke-dasharray="8.8 6"/>
<polygon points="889.5,1162.9 973.3,1176.2 963.8,1215.2 913.3,1208.6 908.6,1231.4 875.2,1224.8" fill="#999" stroke="#000" stroke-width="2"/>
<g stroke="#111" stroke-width="1.3" fill="none">
<path d="M890.8 1166.5l6.4 7M897.5 1167.2l-7 5.6"/>
<path d="M907.8 1177.5l6.4 7M914.5 1178.2l-7 5.6"/>
<path d="M925.8 1176.5l6.4 7M932.5 1177.2l-7 5.6"/>
<path d="M952.8 1179.5l6.4 7M959.5 1180.2l-7 5.6"/>
<path d="M886.8 1186.5l6.4 7M893.5 1187.2l-7 5.6"/>
<path d="M901.8 1196.5l6.4 7M908.5 1197.2l-7 5.6"/>
<path d="M922.8 1193.5l6.4 7M929.5 1194.2l-7 5.6"/>
<path d="M947.8 1198.5l6.4 7M954.5 1199.2l-7 5.6"/>
<path d="M888.8 1209.5l6.4 7M895.5 1210.2l-7 5.6"/>
</g>
<polyline points="887.8,701.9 882.2,730.4 886.7,771.1 894.1,815.6 895.9,845.2 908.9,889.6 938.5,911.9 968.1,928.5 994.1,943.3 1049.6,955.6 1083.0,988.9 1116.3,1007.4 1144.0,1040.7 1153.3,1079.6" stroke="#0000ff" stroke-width="2" fill="none" stroke-linejoin="round"/>
<polyline points="908.9,889.6 905.0,902.0 901.9,910.3 893.0,921.0 884.7,928.4" stroke="#0000ff" stroke-width="2" fill="none"/>
<path d="M717.2 899.6C716.8 901.1 713.8 903.0 715.2 907.2C716.6 911.4 720.1 914.7 724.3 920.4C728.5 926.1 732.6 928.2 736.4 935.5C740.2 942.8 741.5 947.6 743.5 956.7C745.5 965.8 744.7 970.4 746.5 980.9C748.3 991.4 749.3 998.6 752.5 1009.1C755.7 1019.6 757.3 1023.2 762.6 1033.3C767.9 1043.4 772.3 1049.5 778.8 1059.6C785.3 1069.7 788.9 1073.7 794.9 1083.8C800.9 1093.9 804.8 1100.7 809.0 1110.0C813.2 1119.3 815.5 1122.5 816.1 1130.2C816.7 1137.9 813.5 1141.5 812.1 1148.4C810.7 1155.3 808.4 1158.1 809.0 1164.5C809.6 1170.9 812.5 1174.1 815.1 1180.6C817.7 1187.1 820.4 1189.7 822.2 1196.8C824.0 1203.9 824.6 1208.3 824.2 1216.0C823.8 1223.7 823.1 1228.1 820.1 1235.1C817.1 1242.1 811.5 1247.7 809.4 1250.9" stroke="#0000ff" stroke-width="2" fill="none" stroke-linejoin="round"/>
<path d="M838.5 799.6C849.0 799.6 882.4 801.3 901.5 799.6C920.6 797.9 936.0 793.4 953.3 789.6C970.6 785.8 989.2 779.8 1005.2 776.7C1021.2 773.6 1033.5 770.8 1049.6 771.1C1065.6 771.4 1087.3 777.3 1101.5 778.5C1115.7 779.7 1122.5 779.9 1134.8 778.5C1147.1 777.1 1157.1 775.0 1175.6 770.4C1194.1 765.8 1234.2 754.0 1245.9 750.7" stroke="#0000ff" stroke-width="2.3" stroke-dasharray="9.7 9.7" fill="none"/>
<path d="M838.5 938.5C846.5 939.3 870.0 943.1 886.7 943.3C903.4 943.5 921.2 944.2 938.5 939.6C955.8 935.0 975.6 921.8 990.4 915.6C1005.2 909.4 1016.3 905.4 1027.4 902.6C1038.5 899.8 1044.7 897.7 1057.0 898.9C1069.3 900.1 1086.1 906.0 1101.5 910.0C1116.9 914.0 1134.8 916.8 1149.6 923.0C1164.4 929.2 1177.4 943.0 1190.4 947.0C1203.4 951.0 1221.2 947.0 1227.4 947.0" stroke="#0000ff" stroke-width="2.3" stroke-dasharray="9.7 9.7" fill="none"/>
<path d="M753.3 1121.0C763.2 1130.5 795.3 1161.5 812.6 1177.8C829.9 1194.0 845.9 1208.3 857.0 1218.5C868.1 1228.7 870.6 1234.3 879.3 1238.9C887.9 1243.5 896.6 1244.1 908.9 1246.3C921.2 1248.5 937.2 1251.0 953.3 1251.9C969.3 1252.8 993.5 1252.5 1005.2 1251.9C1016.9 1251.3 1020.6 1248.7 1023.7 1248.1" stroke="#0000ff" stroke-width="2.3" stroke-dasharray="9.7 9.7" fill="none"/>
<text x="1260.84" y="761.9" font-size="24.0" fill="#1a1a1a" stroke="#1a1a1a" text-anchor="start" letter-spacing="0.830" >75</text>
<text x="1244.51" y="959.3" font-size="24.0" fill="#1a1a1a" stroke="#1a1a1a" text-anchor="start" letter-spacing="-1.110" >80</text>
<text x="1035.31" y="1265.9" font-size="24.0" fill="#1a1a1a" stroke="#1a1a1a" text-anchor="start" letter-spacing="0.370" >85</text>
<text x="887.40" y="743.3" font-size="24.0" fill="#1a1a1a" stroke="#1a1a1a" text-anchor="start" letter-spacing="-0.188" >Creek</text>
<text x="641.90" y="970.4" font-size="24.0" fill="#1a1a1a" stroke="#1a1a1a" text-anchor="start" letter-spacing="-0.387" >Creek</text>
<text x="1092.78" y="710.0" font-size="24.0" fill="#ea1c2e" stroke="#ea1c2e" text-anchor="start" letter-spacing="0.312" >18 TU</text>
<text x="1081.48" y="957.4" font-size="24.0" fill="#ea1c2e" stroke="#ea1c2e" text-anchor="start" letter-spacing="0.088" >20 TU</text>
<text x="961.09" y="1003.7" font-size="24.0" fill="#ea1c2e" stroke="#ea1c2e" text-anchor="start" letter-spacing="0.087" >22 TU</text>
<text x="909.19" y="1094.4" font-size="24.0" fill="#ea1c2e" stroke="#ea1c2e" text-anchor="start" letter-spacing="0.087" >27 TU</text>
<text x="895.43" y="1142.6" font-size="24.0" fill="#ea1c2e" stroke="#ea1c2e" text-anchor="start" letter-spacing="0.102" >30 TU</text>
<text x="1395.19" y="714.0" font-size="32.6" fill="#1a1a1a" stroke="#1a1a1a" text-anchor="start" >b)</text>
<rect x="1062.5" y="1168.6" width="166.9" height="63.6" fill="#fff" stroke="#111" stroke-width="1.7"/>
<path d="M960 1198.1L1062.3 1205.6" stroke="#111" stroke-width="2"/>
<text x="1102.40" y="1191.9" font-size="23.8" fill="#1a1a1a" stroke="#1a1a1a" text-anchor="start" letter-spacing="0.085" >Landfill</text>
<text x="1065.80" y="1225.9" font-size="23.6" fill="#ea1c2e" stroke="#ea1c2e" text-anchor="start" letter-spacing="0.583" >400-1800 TU</text>
<path d="M1045.2 1331.5V1320.4H1171.9V1331.5" stroke="#111" stroke-width="2.2" fill="none"/>
<text x="1037.16" y="1354.0" font-size="24.0" fill="#1a1a1a" stroke="#1a1a1a" text-anchor="start" >0</text>
<text x="1139.78" y="1354.8" font-size="24.0" fill="#1a1a1a" stroke="#1a1a1a" text-anchor="start" letter-spacing="-0.534" >1000 m</text>
<text x="22.21" y="1522.2" font-size="35.0" fill="#1a1a1a" stroke="#1a1a1a" text-anchor="start" letter-spacing="0.655" >Legend</text>
<text x="1815.33" y="1528.0" font-size="32.6" fill="#1a1a1a" stroke="#1a1a1a" text-anchor="start" >c)</text>
<rect x="25.9" y="1595.6" width="54.4" height="33.0" fill="#999" stroke="#000" stroke-width="2.2"/>
<g stroke="#111" stroke-width="1.2" fill="none">
<path d="M40.0 1602.5l6 6M46.0 1602.5l-6 6"/>
<path d="M62.0 1602.5l6 6M68.0 1602.5l-6 6"/>
<path d="M30.5 1614.5l6 6M36.5 1614.5l-6 6"/>
<path d="M44.5 1617.5l6 6M50.5 1617.5l-6 6"/>
<path d="M64.5 1615.0l6 6M70.5 1615.0l-6 6"/>
</g>
<text x="103.12" y="1622.5" font-size="28.8" fill="#1a1a1a" stroke="#1a1a1a" text-anchor="start" letter-spacing="0.175" >Landfill</text>
<rect x="25.9" y="1654.6" width="54.4" height="33.0" fill="#e3f4d7" stroke="#000" stroke-width="2.2"/>
<g stroke="#6b7a45" stroke-width="1.1" fill="none"><circle cx="38.5" cy="1665.8" r="4"/><circle cx="69.5" cy="1663.8" r="4.4"/><circle cx="58" cy="1677.5" r="4.4"/></g>
<text x="106.21" y="1683.0" font-size="28.8" fill="#1a1a1a" stroke="#1a1a1a" text-anchor="start" letter-spacing="-0.067" >Alluvial deposits</text>
<rect x="25.9" y="1713.6" width="54.9" height="33.0" fill="#d7e3f4" stroke="#000" stroke-width="2.2"/>
<path d="M34 1719.5l6 6.5M56.5 1720l-7 6M75.5 1719l-9 7.5M35 1733.5l6 7M59.5 1732.5l7.5 8" stroke="#000" stroke-width="1.6" fill="none"/>
<text x="102.82" y="1742.4" font-size="28.8" fill="#1a1a1a" stroke="#1a1a1a" text-anchor="start" letter-spacing="0.149" >Eluvial-colluvial deposits</text>
<rect x="27.2" y="1772.8" width="54.4" height="33.0" fill="#ff7f2a" stroke="#000" stroke-width="2.2"/>
<path d="M35 1781q4-3 8 0t9 0M38 1789q4-3 8 0M57 1791q4-3 8 0t9 0M35 1799q4 3 8 0t9 0" stroke="#000" stroke-width="1.4" fill="none"/>
<g fill="#111"><circle cx="37" cy="1777.5" r="1"/><circle cx="65" cy="1778" r="1"/><circle cx="66" cy="1786" r="1"/><circle cx="42" cy="1794" r="1"/><circle cx="67" cy="1799" r="1"/></g>
<text x="107.05" y="1801.2" font-size="28.8" fill="#1a1a1a" stroke="#1a1a1a" text-anchor="start" letter-spacing="0.374" >Sandy silt</text>
<rect x="27.2" y="1830.0" width="54.4" height="33.5" fill="#ff7f2a" stroke="#000" stroke-width="2.2"/>
<path d="M27.2 1845.4H81.6" stroke="#000" stroke-width="0.8"/>
<g fill="#111">
<circle cx="37.0" cy="1834.5" r="1"/>
<circle cx="47.0" cy="1836.0" r="1"/>
<circle cx="56.0" cy="1834.0" r="1"/>
<circle cx="66.0" cy="1836.5" r="1"/>
<circle cx="75.0" cy="1834.5" r="1"/>
<circle cx="35.0" cy="1841.0" r="1"/>
<circle cx="42.0" cy="1839.5" r="1"/>
<circle cx="52.0" cy="1841.0" r="1"/>
<circle cx="60.0" cy="1840.0" r="1"/>
<circle cx="70.0" cy="1841.5" r="1"/>
<circle cx="77.0" cy="1840.0" r="1"/>
<circle cx="34.0" cy="1851.0" r="1"/>
<circle cx="44.0" cy="1852.5" r="1"/>
<circle cx="53.0" cy="1850.5" r="1"/>
<circle cx="63.0" cy="1852.5" r="1"/>
<circle cx="72.0" cy="1850.5" r="1"/>
<circle cx="78.0" cy="1853.0" r="1"/>
<circle cx="38.0" cy="1857.5" r="1"/>
<circle cx="48.0" cy="1858.5" r="1"/>
<circle cx="58.0" cy="1857.0" r="1"/>
<circle cx="67.0" cy="1858.5" r="1"/>
<circle cx="76.0" cy="1857.5" r="1"/>
</g>
<text x="107.05" y="1858.1" font-size="28.8" fill="#1a1a1a" stroke="#1a1a1a" text-anchor="start" letter-spacing="0.870" >Sand</text>
<rect x="495.1" y="1595.4" width="54.2" height="33.0" fill="#ffe680" stroke="#000" stroke-width="2.2"/>
<g fill="#111">
<circle cx="501.9" cy="1601.7" r="1.05"/>
<circle cx="509.9" cy="1601.4" r="1.05"/>
<circle cx="515.2" cy="1601.8" r="1.05"/>
<circle cx="520.9" cy="1601.5" r="1.05"/>
<circle cx="528.8" cy="1602.6" r="1.05"/>
<circle cx="533.8" cy="1600.8" r="1.05"/>
<circle cx="540.4" cy="1602.6" r="1.05"/>
<circle cx="505.6" cy="1606.7" r="1.05"/>
<circle cx="513.0" cy="1610.0" r="1.05"/>
<circle cx="518.7" cy="1608.7" r="1.05"/>
<circle cx="523.8" cy="1606.6" r="1.05"/>
<circle cx="531.5" cy="1606.7" r="1.05"/>
<circle cx="537.1" cy="1607.4" r="1.05"/>
<circle cx="543.2" cy="1608.2" r="1.05"/>
<circle cx="501.8" cy="1616.3" r="1.05"/>
<circle cx="508.7" cy="1615.6" r="1.05"/>
<circle cx="515.2" cy="1615.7" r="1.05"/>
<circle cx="521.7" cy="1614.3" r="1.05"/>
<circle cx="529.9" cy="1616.9" r="1.05"/>
<circle cx="536.0" cy="1615.8" r="1.05"/>
<circle cx="541.0" cy="1614.1" r="1.05"/>
<circle cx="504.4" cy="1620.4" r="1.05"/>
<circle cx="512.4" cy="1621.5" r="1.05"/>
<circle cx="519.2" cy="1621.5" r="1.05"/>
<circle cx="526.2" cy="1623.2" r="1.05"/>
<circle cx="529.9" cy="1620.9" r="1.05"/>
<circle cx="539.2" cy="1621.8" r="1.05"/>
<circle cx="546.0" cy="1621.5" r="1.05"/>
</g>
<text x="571.82" y="1624.3" font-size="28.8" fill="#1a1a1a" stroke="#1a1a1a" text-anchor="start" letter-spacing="0.419" >Fine sand</text>
<rect x="495.1" y="1650.6" width="54.2" height="33.5" fill="#ffe680" stroke="#000" stroke-width="2.2"/>
<g stroke="#7a6a1e" stroke-width="1.1" fill="none"><circle cx="507.5" cy="1662" r="4"/><circle cx="539.5" cy="1663" r="4.3"/><circle cx="521.5" cy="1673" r="4.3"/></g>
<g fill="#111"><circle cx="518.5" cy="1660" r="1"/><circle cx="506" cy="1675" r="1"/><circle cx="540" cy="1672" r="1"/></g>
<text x="571.54" y="1678.9" font-size="28.8" fill="#1a1a1a" stroke="#1a1a1a" text-anchor="start" letter-spacing="0.078" >Gravel and sand</text>
<rect x="495.1" y="1708.2" width="54.2" height="33.2" fill="#a05a2c" stroke="#000" stroke-width="2.2"/>
<path d="M503 1721.5h26M516 1721.5v-3.5M516 1734.5h28M531 1734.5v-3.5" stroke="#000" stroke-width="1.6" fill="none"/>
<g fill="#111"><circle cx="502" cy="1714" r="1"/><circle cx="538" cy="1720.5" r="1"/><circle cx="507" cy="1735" r="1"/></g>
<text x="573.62" y="1737.0" font-size="28.8" fill="#1a1a1a" stroke="#1a1a1a" text-anchor="start" letter-spacing="0.202" >Marly clay with sand</text>
<rect x="495.1" y="1764.8" width="54.2" height="33.2" fill="#a05a2c" stroke="#000" stroke-width="2.2"/>
<path d="M501 1775.5h26M516 1775.5v-4M518 1792h27M533 1792v-4" stroke="#000" stroke-width="1.6" fill="none"/>
<text x="573.54" y="1794.9" font-size="28.8" fill="#1a1a1a" stroke="#1a1a1a" text-anchor="start" letter-spacing="-0.219" >Clay</text>
<path d="M950.5 1653.2L1049.5 1613.8" stroke="#0000ff" stroke-width="2"/>
<text x="1109.64" y="1634.9" font-size="28.8" fill="#1a1a1a" stroke="#1a1a1a" text-anchor="start" letter-spacing="-0.043" >Creek</text>
<path d="M944.1 1728.1L1044.4 1689.5" stroke="#0000ff" stroke-width="2.3" stroke-dasharray="9.7 9.7"/>
<text x="1108.42" y="1711.6" font-size="28.8" fill="#1a1a1a" stroke="#1a1a1a" text-anchor="start" letter-spacing="0.089" >Piezometric level</text>
<circle cx="996.2" cy="1794.4" r="8" fill="#0000ff"/>
<path d="M996.2 1794.4L1024.1 1773.3L1007.6 1770.3" stroke="#0000ff" stroke-width="1.4" fill="none"/>
<text x="1110.65" y="1794.9" font-size="28.8" fill="#1a1a1a" stroke="#1a1a1a" text-anchor="start" letter-spacing="0.532" >Spring</text>
<path d="M1005.3 1859.7V1918.6" stroke="#000" stroke-width="2.3"/>
<path d="M1005.3 1859.7c0-9-3-14-9.100-19.100l-8.200-3.300l10.700-2.500" stroke="#0000ff" stroke-width="1.400" fill="none"/>
<text x="1100.82" y="1879.5" font-size="28.8" fill="#1a1a1a" stroke="#1a1a1a" text-anchor="start" letter-spacing="0.355" >Dug well</text>
<path d="M1501.1 1583.7C1492.5 1584.1 1484.7 1586.8 1477.8 1591.5C1470.9 1596.2 1463.7 1604.0 1459.6 1612.2C1455.5 1620.4 1453.3 1630.8 1453.1 1640.7C1452.9 1650.7 1454.6 1664.3 1458.3 1671.9C1462.0 1679.5 1467.2 1682.9 1475.2 1686.1C1483.2 1689.3 1498.5 1692.4 1506.3 1691.3C1514.1 1690.2 1516.3 1685.0 1521.9 1679.6C1527.5 1674.2 1535.2 1667.1 1540.0 1658.9C1544.8 1650.7 1549.1 1639.5 1550.4 1630.4C1551.7 1621.3 1551.3 1611.4 1547.8 1604.5C1544.3 1597.6 1537.4 1592.4 1529.6 1588.9C1521.8 1585.4 1509.7 1583.3 1501.1 1583.7Z" fill="#ff8080" stroke="#111" stroke-width="2.7" stroke-dasharray="7.6 5"/>
<path d="M1493.3 1613.5C1501.1 1612.4 1510.2 1612.8 1516.7 1614.8C1523.2 1616.8 1529.0 1620.0 1532.2 1625.2C1535.4 1630.4 1537.0 1639.0 1536.1 1645.9C1535.2 1652.8 1532.0 1661.1 1527.0 1666.7C1522.0 1672.3 1514.5 1676.4 1506.3 1679.6C1498.1 1682.8 1485.1 1686.1 1477.8 1686.1C1470.5 1686.1 1465.5 1683.7 1462.2 1679.6C1459.0 1675.5 1458.5 1668.4 1458.3 1661.5C1458.1 1654.6 1459.0 1644.9 1460.9 1638.2C1462.9 1631.5 1464.6 1625.4 1470.0 1621.3C1475.4 1617.2 1485.5 1614.6 1493.3 1613.5Z" fill="#ff2a2a" stroke="#111" stroke-width="2.7" stroke-dasharray="7.6 5"/>
<text x="1584.62" y="1668.0" font-size="28.8" fill="#1a1a1a" stroke="#1a1a1a" text-anchor="start" >H</text>
<text x="1605.36" y="1649.7" font-size="15.5" fill="#1a1a1a" stroke="#1a1a1a" text-anchor="start" >3</text>
<text x="1617.74" y="1668.0" font-size="28.8" fill="#1a1a1a" stroke="#1a1a1a" text-anchor="start" letter-spacing="-0.358" >content</text>
<path d="M1431.1 1765.7L1530.9 1725" stroke="#ff0000" stroke-width="2" stroke-dasharray="9 7"/>
<text x="1584.12" y="1747.6" font-size="28.8" fill="#1a1a1a" stroke="#1a1a1a" text-anchor="start" >Lechate level</text>
<path d="M1472.1 1803.7L1491.9 1820.2" stroke="#ff0000" stroke-width="1.6" fill="none"/>
<polygon points="1505.7,1831.6 1484.3,1822.6 1491.9,1820.2 1492.9,1812.3" fill="#ff0000"/>
<text x="1584.12" y="1824.3" font-size="28.8" fill="#1a1a1a" stroke="#1a1a1a" text-anchor="start" letter-spacing="0.007" >Lechate percolation</text>
</svg>
</body>
</html>
